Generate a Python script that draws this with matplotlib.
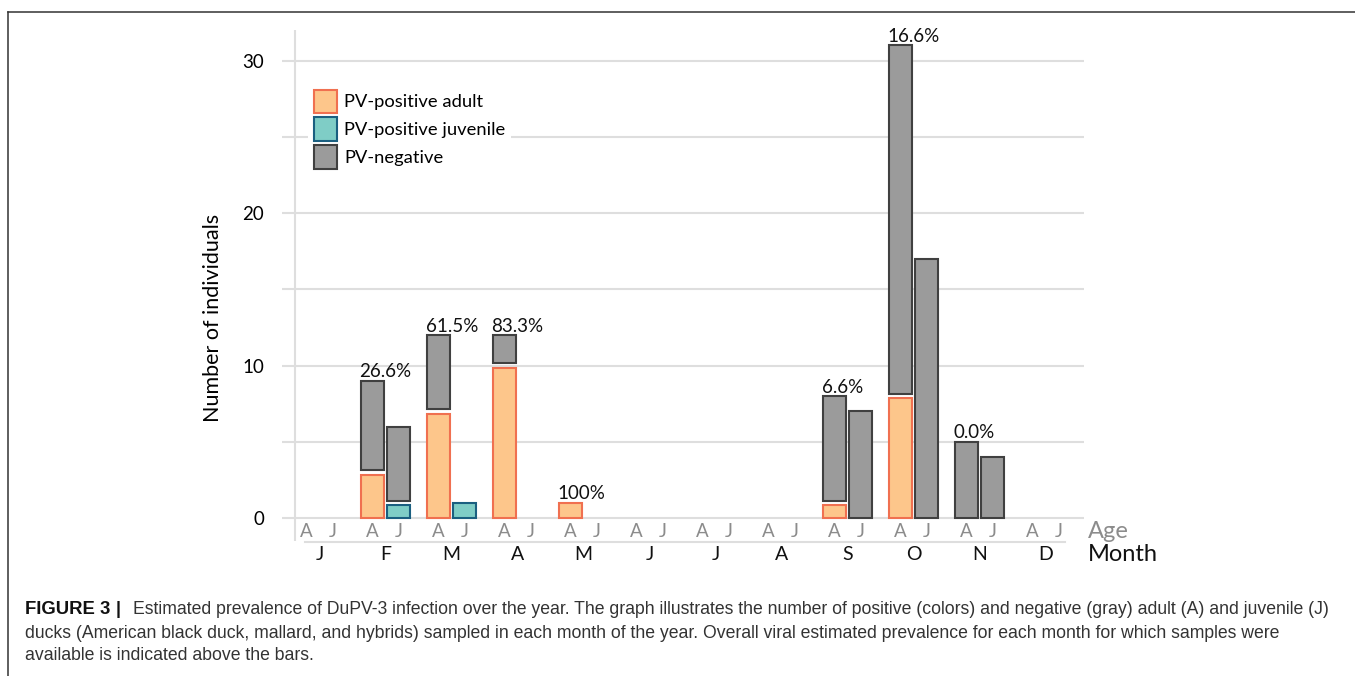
import numpy as np
import matplotlib
matplotlib.use("Agg")
import matplotlib.pyplot as plt
from matplotlib.lines import Line2D

# Données : nombre d'individus par mois (A = adulte, J = juvénile)
mois = ["J", "F", "M", "A", "M", "J", "J", "A", "S", "O", "N", "D"]
posAdulte = np.array([0, 3, 7, 10, 1, 0, 0, 0, 1, 8, 0, 0])
negAdulte = np.array([0, 6, 5, 2, 0, 0, 0, 0, 7, 23, 5, 0])
posJuvenile = np.array([0, 1, 1, 0, 0, 0, 0, 0, 0, 0, 0, 0])
negJuvenile = np.array([0, 5, 0, 0, 0, 0, 0, 0, 7, 17, 4, 0])
prevalence = ["", "26.6%", "61.5%", "83.3%", "100%", "", "", "", "6.6%", "16.6%", "0.0%", ""]

legendes = ["PV-positive adult", "PV-positive juvenile", "PV-negative"]

# Styles
orange = dict(facecolor="#FDC68B", edgecolor="#F07050")
turquoise = dict(facecolor="#7FCDC6", edgecolor="#1A5F80")
gris = dict(facecolor="#9B9B9B", edgecolor="#404040")

plt.rcParams["font.family"] = ["Lato", "DejaVu Sans"]

W, H = 1355, 676
fig = plt.figure(figsize=(W / 100, H / 100), dpi=100)

# axes : x de 282 à 1084 px, y de 30 à 541 px
ax = fig.add_axes([282 / W, 1 - 541 / H, 802 / W, 511 / H])
ax.set_xlim(-0.568, 11.583)
ax.set_ylim(-1.5, 32)
for s in ax.spines.values():
    s.set_visible(False)

# grille
for y in range(0, 31, 5):
    ax.axhline(y, color="#DEDEDE", lw=1.5, zorder=0)
ax.axvline(-0.371, color="#DEDEDE", lw=1.5, zorder=0)
ax.plot([-0.22, 11.3], [-1.55, -1.55], color="#DEDEDE", lw=1.5, clip_on=False)

x = np.arange(len(mois))
decal = 0.197
largeur = 0.35
ecart = 0.15  # petit blanc entre les segments empilés


def barresEmpilees(xs, bas, haut, styleBas, styleHaut, labelBas, labelHaut):
    aBas = bas > 0
    aHaut = haut > 0
    hBas = bas - ecart * (aHaut & aBas)
    baseHaut = bas + ecart * aBas
    hHaut = haut - ecart * aBas
    b1 = ax.bar(xs[aBas], hBas[aBas], largeur, linewidth=1.5, label=labelBas, zorder=3, **styleBas)
    b2 = ax.bar(xs[aHaut], hHaut[aHaut], largeur, bottom=baseHaut[aHaut], linewidth=1.5,
                label=labelHaut, zorder=3, **styleHaut)
    return b1, b2


hA, hNeg = barresEmpilees(x - decal, posAdulte, negAdulte, orange, gris, legendes[0], legendes[2])
hJ, _ = barresEmpilees(x + decal, posJuvenile, negJuvenile, turquoise, gris, legendes[1], None)

# Prévalence au-dessus des barres adultes
totalA = posAdulte + negAdulte
for i in range(len(mois)):
    if prevalence[i]:
        ax.annotate(prevalence[i], (x[i] - decal - largeur / 2, totalA[i]),
                    xytext=(-1, 2.5), textcoords="offset points",
                    ha="left", va="baseline", fontsize=13.5, color="#111111")

# Axe y
ax.set_xticks([])
ax.set_yticks([0, 10, 20, 30])
ax.tick_params(axis="y", length=0, pad=13, labelsize=13.5)
fig.text(213 / W, 1 - 318 / H, "Number of individuals", rotation=90,
         ha="center", va="center", fontsize=15.5)

# Étiquettes âge / mois
for i in range(len(mois)):
    ax.text(x[i] - decal, -0.85, "A", ha="center", va="center", fontsize=13.5,
            color="#8C8C8C", clip_on=False)
    ax.text(x[i] + decal, -0.85, "J", ha="center", va="center", fontsize=13.5,
            color="#8C8C8C", clip_on=False)
    ax.text(x[i], -2.4, mois[i], ha="center", va="center", fontsize=14,
            color="#111111", clip_on=False)
ax.text(11.64, -0.85, "Age", ha="left", va="center", fontsize=17, color="#8C8C8C", clip_on=False)
ax.text(11.64, -2.4, "Month", ha="left", va="center", fontsize=17, color="#111111", clip_on=False)

# Légende
leg = ax.legend(handles=[hA, hJ, hNeg], labels=legendes, loc="upper left",
                bbox_to_anchor=(308 / W, 1 - 84 / H), bbox_transform=fig.transFigure,
                fontsize=13.2, handlelength=1.28, handleheight=1.6, labelspacing=0.24,
                handletextpad=0.4, borderpad=0.3, borderaxespad=0,
                frameon=True, fancybox=False, framealpha=1)
leg.get_frame().set_edgecolor("none")

# Cadre de la figure
fig.add_artist(Line2D([8 / W, 1], [1 - 12 / H, 1 - 12 / H], color="#333333", lw=1.1))
fig.add_artist(Line2D([8 / W, 8 / W], [0, 1 - 12 / H], color="#333333", lw=1.1))

# Légende de la figure
police = ["Liberation Sans Narrow", "Liberation Sans", "DejaVu Sans"]
taille = 12.7
fig.text(25 / W, 1 - 610 / H, "FIGURE 3", family=police, fontweight="bold",
         fontsize=13.3, va="center", color="#111111")
fig.text(116 / W, 1 - 610 / H, "|", family=police, fontweight="bold",
         fontsize=taille, va="center", color="#111111")
lignes = [
    "Estimated prevalence of DuPV-3 infection over the year. The graph illustrates the number of positive (colors) and negative (gray) adult (A) and juvenile (J)",
    "ducks (American black duck, mallard, and hybrids) sampled in each month of the year. Overall viral estimated prevalence for each month for which samples were",
    "available is indicated above the bars.",
]
fig.text(133 / W, 1 - 610 / H, lignes[0], family=police, fontsize=taille, va="center", color="#333333")
fig.text(25 / W, 1 - 633 / H, lignes[1], family=police, fontsize=taille, va="center", color="#333333")
fig.text(25 / W, 1 - 656 / H, lignes[2], family=police, fontsize=taille, va="center", color="#333333")

fig.savefig("out.png", dpi=100)
